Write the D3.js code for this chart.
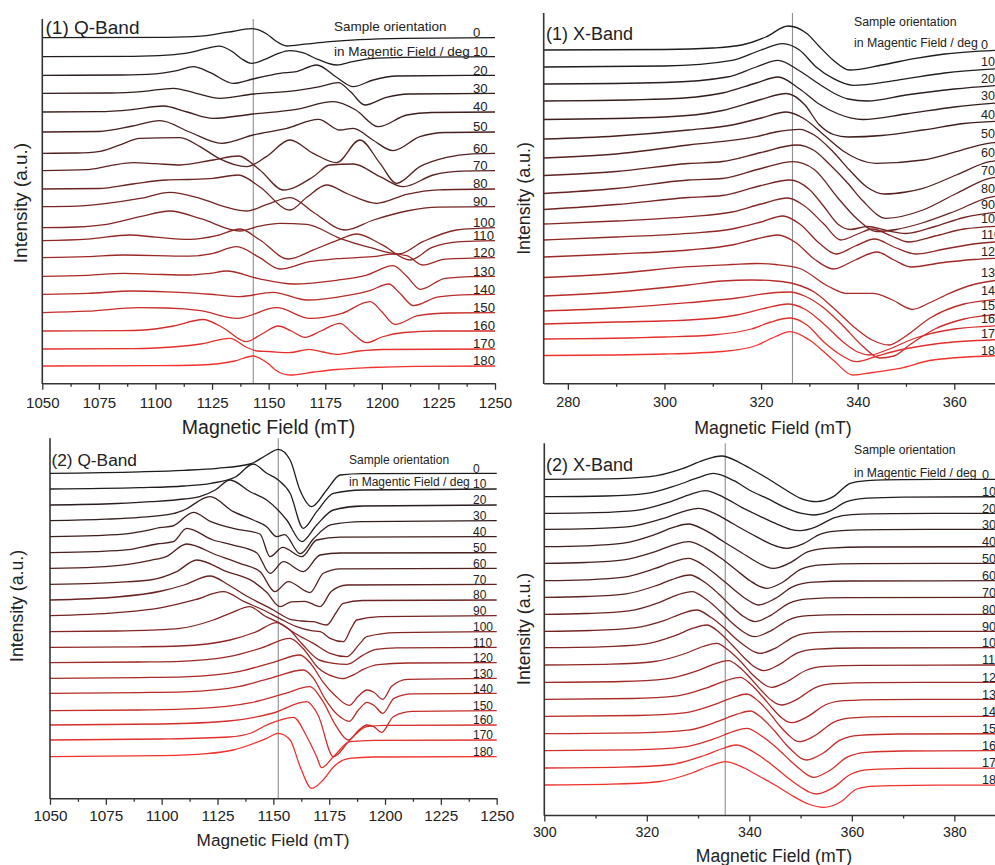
<!DOCTYPE html>
<html>
<head>
<meta charset="utf-8">
<script src="https://cdn.jsdelivr.net/npm/d3@7"></script>
<style>
body { margin: 0; background: #fff; }
svg { font-family: "Liberation Sans", Arial, sans-serif; }
</style>
</head>
<body>
<svg id="chart" width="995" height="865"></svg>
<script>
// sample orientation in the field, deg
var angles = [0, 10, 20, 30, 40, 50, 60, 70, 80, 90, 100, 110, 120, 130, 140, 150, 160, 170, 180];

// ---- (1) Q-Band ----
var q1Ticks = [1050, 1075, 1100, 1125, 1150, 1175, 1200, 1225, 1250];
var q1Marker = 1143.2;
var q1Offsets = [345.6, 326.6, 308, 290, 271.3, 251.3, 230, 212.6, 194.3, 176.6, 155.6, 142.6, 125.6, 107, 89, 70.6, 52.3, 34.3, 17.3];
var q1Spectra = [
  [[1050,0],[1105,0.4],[1120,1.5],[1132,5.5],[1142.5,9],[1149,4],[1153,-3],[1158,-8.3],[1166,-6.5],[1177,-4],[1190,-2],[1210,-0.7],[1250,0]],
  [[1050,0],[1090,0.3],[1105,1.5],[1115,4],[1122,8],[1128,10.5],[1134,5],[1138,-2],[1142.5,-6.7],[1148,-3],[1154,3],[1159.4,6],[1165,4],[1172,-3],[1180,-8.3],[1187,-5],[1195,-2],[1210,-0.7],[1250,0]],
  [[1050,0],[1085,0.3],[1100,1.5],[1110,5],[1116.7,8.7],[1124,3],[1134.4,-8],[1143,-3.7],[1155,2],[1162.3,3.7],[1171.2,10.3],[1180,-2],[1187.4,-11.3],[1196.2,-4.7],[1206.5,-0.7],[1250,0]],
  [[1050,0],[1080,0.3],[1095,2],[1107.9,5],[1118,0],[1128.5,-5],[1143.2,-0.7],[1162,2.7],[1172.7,6.7],[1180.8,10.7],[1186,2],[1192.5,-11.7],[1202,-4],[1212,-0.7],[1250,0]],
  [[1050,0],[1075,0.3],[1090,2.5],[1103.5,6],[1114,0],[1125.5,-6.3],[1143.2,-2],[1162.3,2.7],[1178.5,10.3],[1188.5,2],[1198.4,-14.7],[1211,-3],[1222,-0.5],[1250,0]],
  [[1050,0],[1075,0.5],[1090,6],[1102,11.3],[1115,0],[1129.2,-11.3],[1143.2,-3],[1158,3.7],[1172,12.7],[1181.5,2],[1187.4,3.7],[1196,-8],[1205,-18.7],[1216.8,-4.7],[1228,-0.5],[1250,0]],
  [[1050,0],[1065,0.3],[1075.5,2],[1085,9],[1093,15],[1110.8,15.7],[1119.7,6.7],[1128,-5],[1140.3,-13.3],[1149,-3.3],[1159.4,13.3],[1169.7,0],[1180,-9.3],[1190.3,13.3],[1199.2,-10],[1206.5,-30],[1216.8,-13.3],[1228.6,-4],[1240,-0.5],[1250,0]],
  [[1050,0],[1070,1],[1080,5],[1090.2,8],[1100,7],[1110.8,5.7],[1125.5,10.7],[1136.6,14.7],[1146.1,0.7],[1156.5,-19.3],[1169.7,-6],[1177,5.7],[1187.4,6.7],[1199.2,-6],[1209.5,-16],[1222.7,-4.3],[1235,-0.5],[1250,0]],
  [[1050,0],[1075,0.5],[1090,5],[1105,9],[1115,9.5],[1125.5,10.7],[1136.6,14],[1146,2.3],[1159.4,-21],[1167,-8],[1175.6,4],[1185,-5],[1197.7,-14.3],[1211,-5.3],[1225,-0.8],[1250,0]],
  [[1050,0],[1065,0.5],[1078.5,3.3],[1093.2,8.3],[1106.4,14.3],[1120,8],[1132,-1],[1140.3,-4.3],[1149,2],[1159.5,9],[1170,-6],[1183.8,-23.3],[1196.3,-13.3],[1211,-4.3],[1225,-0.5],[1250,0]],
  [[1050,0],[1065,0.7],[1078.5,3.3],[1093.2,11],[1106.4,16.7],[1120,9],[1137.4,-3.3],[1145,1],[1155,4.3],[1166.8,3.3],[1181.5,-10.7],[1195,-20],[1207.3,-26.3],[1218.4,-13.7],[1233,-2.3],[1245,-0.3],[1250,0]],
  [[1050,0],[1070,1.5],[1088.8,5.7],[1100,3.5],[1115.3,1.3],[1127,5],[1137.4,11.7],[1146,1],[1158.7,-18.3],[1170,-9],[1180,0],[1189,6.7],[1200,-4],[1212.5,-19.3],[1222,-7],[1235,-1],[1250,0]],
  [[1050,0],[1070,1],[1086,2.7],[1115,1.5],[1125,4],[1135.9,11],[1146,0],[1155,-11.3],[1168,-4],[1180,-1],[1196,1],[1205,3.5],[1211,2],[1218,-7.3],[1228,-1.5],[1250,0]],
  [[1050,0],[1070,1],[1086,3],[1100,2],[1115,1.3],[1124,3],[1131.5,5.3],[1145,-2],[1161,-7.7],[1180,-4],[1193,1],[1205,10.7],[1211,0],[1217,-13],[1228,-2],[1240,-0.3],[1250,0]],
  [[1050,0],[1070,1],[1090,3.3],[1105,2.5],[1115,1.5],[1127,-0.5],[1137,-2.3],[1152,2],[1167,-5.7],[1185,-1],[1195,4],[1203,10.3],[1208,1],[1214,-11.3],[1225,-2.5],[1240,-0.3],[1250,0]],
  [[1050,0],[1070,1.5],[1093,5],[1105,4.7],[1120,2],[1136,-5.7],[1153.6,5],[1168.3,-5.7],[1182,-1],[1194.8,11],[1200,1],[1205.8,-11.7],[1216,-3],[1230,-0.3],[1250,0]],
  [[1050,0],[1085,0.3],[1095,1],[1108,5],[1121,11.5],[1130,3],[1140,-10.7],[1147,-3],[1154.3,5],[1160,0],[1166,-6.3],[1173,0],[1181.5,7.7],[1187,-2],[1193.3,-11.7],[1200,-6],[1210,-1.5],[1225,0],[1250,0]],
  [[1050,0],[1090,0.3],[1100,1],[1120,5],[1132.9,10.7],[1140,2],[1145,-2],[1150,-2.5],[1159,-3.7],[1168,-0.3],[1174,-3],[1180,-5.3],[1190,-2],[1200,-0.5],[1250,0]],
  [[1050,0],[1100,0.3],[1120,1],[1135,5],[1143.2,10],[1150,2],[1153,-4],[1159.4,-9],[1170,-6],[1180,-3.5],[1195,-1.5],[1215,-0.3],[1250,0]]
];

// ---- (1) X-Band ----
var x1Ticks = [280, 300, 320, 340, 360];
var x1Marker = 326.5;
var x1Offsets = [333.3, 316.3, 299.3, 282.3, 263.8, 244.3, 225.3, 207.8, 189.8, 173.8, 159.3, 143.3, 126.3, 105.8, 87.3, 72.3, 59.3, 44.3, 27.8];
var x1Spectra = [
  [[275,0],[300,0.5],[310,2],[316,5],[321,13],[325.6,24],[329.4,16.7],[332.1,3.3],[334.9,-10],[338.3,-20],[345,-15],[352,-8.3],[358,-4],[370,0]],
  [[275,0],[300,1],[314,6.7],[320,17],[324.5,23.3],[328,16.7],[331.4,0],[335,-11.7],[339,-18.3],[348,-13.3],[358,-6],[370,-1.5]],
  [[275,0],[300,1.5],[313,7],[319,17],[323.5,23.7],[328,13],[332,0],[335,-9],[338,-15],[342,-17],[350,-11],[360,-5],[370,-1]],
  [[275,0],[300,2],[312,8],[319,18],[323.5,24],[328,12],[332,-3],[336,-13],[341,-18.5],[350,-13],[360,-6],[370,-1.5]],
  [[275,0],[300,2.5],[312,9],[320,20],[325.2,26],[329,15],[332,-5],[335,-15],[338,-17.5],[345,-16],[353.5,-10.5],[362,-4],[370,-1.5]],
  [[275,0],[290,3],[305,9],[314,14],[320,21],[325.2,27],[329,20],[333,4],[337,-12],[340,-20],[343.8,-24.3],[353.5,-21],[360.4,-12.7],[367,-4.3],[370,-3]],
  [[275,0],[290,4],[305,13],[319,21.3],[323,26],[328,28.7],[331,23],[334.9,6.3],[338.3,-12],[341.8,-28.7],[345.6,-36],[350,-34],[353.5,-30.3],[360.4,-17],[367.3,-3.7],[370,-2]],
  [[275,0],[290,4],[305,12],[312,14],[320,23],[327.3,30.5],[331,25],[334,12],[338,-8],[341,-25],[345.9,-42.8],[353.5,-34.5],[360.4,-18],[367.3,-2.8],[370,-1]],
  [[275,0],[290,5],[305,13.5],[312,15],[320,25],[326.6,31.8],[331,24],[336,-5],[340,-26],[343.8,-38],[348,-36],[353,-30],[360,-18],[367.3,-3.8],[370,-2]],
  [[275,0],[290,5],[305,12],[312,14],[320,24],[325.9,29.5],[330,20],[333,3],[336,-15],[338.5,-20],[342,-17],[346,-21],[350,-24],[356,-17],[362,-8],[370,-2]],
  [[275,0],[290,3],[305,7.3],[314,12],[320,20],[325.5,26],[329,18],[333,0],[336.5,-16],[340,-10],[343,-5],[347,-12],[350.5,-18],[356,-12],[362,-5],[370,-2]],
  [[275,0],[290,3],[305,6.7],[314,11],[320,18],[324.5,24],[328,16],[332,-3],[335.5,-14],[339.5,-6],[343.5,1],[347.5,-7],[352,-14],[358,-9],[364,-4],[370,-1.5]],
  [[275,0],[290,3],[305,7],[314,12],[319,18],[323.5,22],[327,15],[331,-2],[335,-12],[339.5,-3],[344,5],[347.5,-3],[351,-10],[357,-6],[364,-2.5],[370,-1]],
  [[275,0],[290,4],[305,10.8],[314,13],[319,14],[323,13],[328,9],[334,-9],[337.6,-15.8],[343.2,-15.8],[347,-22],[351.4,-31.8],[355,-25],[359,-15.8],[364,-7],[370,-2]],
  [[275,0],[290,4],[305,11],[312,15],[318,16],[323,15],[327,12],[331,4],[335,-12],[339,-30],[343,-44],[346.5,-49],[350,-40],[355,-22],[362,-8],[370,-3]],
  [[275,0],[290,3],[305,8.3],[315,13],[322,18],[326,19],[329,15],[333,3],[337,-15],[341,-35],[344.5,-47],[347.5,-45],[351,-33],[356,-18],[362,-8],[370,-3]],
  [[275,0],[290,2],[305,4],[315,9],[321,16],[325.5,20],[329,15],[333,0],[337,-18],[340,-28],[342.5,-31],[346,-26],[352,-14],[360,-5],[370,-1.5]],
  [[275,0],[300,2],[310,4],[318,10],[322,17],[326,21],[329.5,14],[333,-3],[336.5,-16],[339.7,-22.7],[344,-17],[348.7,-11],[356,-5],[370,-0.5]],
  [[275,0],[300,1.5],[312,4],[319,10],[323,19],[326,23.8],[330,15.5],[334.9,-4.5],[339,-19.5],[343,-17],[348.7,-12.8],[355.6,-4.5],[370,0]]
];

// ---- (2) Q-Band ----
var q2Ticks = [1050, 1075, 1100, 1125, 1150, 1175, 1200, 1225, 1250];
var q2Marker = 1152.2;
var q2Offsets = [325, 309.3, 293.3, 277.6, 261.6, 245.6, 230, 214, 198.3, 182.6, 166.6, 151, 135.6, 120, 105, 87.6, 73.3, 58.3, 41.6];
var q2Spectra = [
  [[1050,0],[1090,1.5],[1110,3],[1125,5],[1139.6,9.3],[1147,18.3],[1152.2,24],[1157.5,13.3],[1161.9,-16.7],[1167.2,-33.3],[1173.9,-16.7],[1179.9,-1.7],[1190,-0.3],[1250,0]],
  [[1050,0],[1090,1.3],[1110,3],[1122,5.7],[1133,12],[1141,25],[1147,15.7],[1152.2,9],[1157.5,-4.3],[1163.4,-39.3],[1169.4,-22.7],[1176.9,-4.3],[1190,-1],[1250,0]],
  [[1050,0],[1080,1.5],[1095,3.3],[1110,6],[1117,8.3],[1124,15],[1130.6,25],[1139.6,13.3],[1147,5],[1156,-15],[1162.7,-36.7],[1169.4,-20],[1176.9,-5],[1190,-1],[1250,0]],
  [[1050,0],[1075,1.5],[1090,3.3],[1105,7],[1110,10.7],[1121.6,24],[1132.1,9],[1141,0.7],[1147,-6],[1151.5,-16],[1155,-14],[1162,-33],[1168,-18],[1176,-4],[1190,-1],[1250,0]],
  [[1050,0],[1070,1],[1085,3],[1093,6],[1099,9],[1105,10.7],[1114.2,24.3],[1122,15],[1132,8.3],[1144,2.7],[1148.5,-20],[1154.2,-10.7],[1162.7,-20],[1169.4,-3.3],[1180,-0.5],[1250,0]],
  [[1050,0],[1070,1],[1085,3],[1097.8,8.7],[1105.2,11],[1111.2,24.3],[1123,12.7],[1132,7.7],[1142.5,0],[1148.5,-20.7],[1154.5,-9],[1163.4,-19],[1170.9,-2.3],[1180,-0.3],[1250,0]],
  [[1050,0],[1070,1.2],[1085,4],[1095,8],[1102,11.7],[1111.2,24.3],[1124.6,13.3],[1135,5],[1144,-3.3],[1150.7,-23.3],[1156.7,-13.3],[1166.4,-24.3],[1172.4,-5],[1180,-0.5],[1250,0]],
  [[1050,0],[1070,1],[1080,2],[1094.8,4.3],[1106.7,12.7],[1115.7,24.3],[1129.1,12.7],[1141,2.7],[1147,-8],[1153,-22.3],[1158,-17.5],[1164,-17],[1170.9,-22.3],[1176,-7],[1183,-0.7],[1250,0]],
  [[1050,0],[1080,3],[1100,9],[1110,15],[1121.6,24],[1130,15],[1138,4],[1150,-10],[1157.5,-19.3],[1163,-21],[1167.9,-21.7],[1173.9,-25],[1178,-13],[1181.3,-3.3],[1190,-0.5],[1250,0]],
  [[1050,0],[1080,3],[1100,8],[1115,16],[1127.6,24],[1137,14],[1145.5,5.7],[1153,-3],[1160.4,-11],[1167,-15],[1171,-16],[1175.4,-22.7],[1181.3,-26],[1185,-12],[1187.3,-4.3],[1197.8,-1],[1250,0]],
  [[1050,0],[1080,0.7],[1095,1.5],[1108.2,3.3],[1123.1,11.7],[1130.6,18.3],[1139.5,25],[1146,16],[1153,8.3],[1160,-2],[1167.9,-11.7],[1175.4,-21.7],[1182.8,-25],[1188.8,-11.7],[1191.8,-5],[1205.2,-1],[1250,0]],
  [[1050,0],[1090,0.5],[1108,1.3],[1130.6,7.3],[1142.5,15.7],[1151.5,24.7],[1157,18],[1163,3],[1170,-12],[1177,-16],[1183,-17],[1190,-8],[1196,-2],[1205,-0.5],[1250,0]],
  [[1050,0],[1090,0.7],[1108.2,1.3],[1130,6],[1145,15],[1157.4,24.3],[1163,15],[1170,-5],[1177,-14],[1181,-16],[1186,-12],[1190,-7],[1197,-2],[1210,-0.3],[1250,0]],
  [[1050,0],[1090,0.7],[1110,1.5],[1135,7],[1150,16],[1161.9,23.3],[1167,14],[1172,-3],[1178,-18],[1184,-27],[1188,-18],[1192,-11.7],[1195,-14],[1199,-21],[1203,-8],[1210,-1],[1250,0]],
  [[1050,0],[1090,0.7],[1110,1.5],[1135,7],[1150,16],[1163.4,23.3],[1168,15],[1173,-5],[1179,-22],[1184,-28],[1188,-17],[1192,-9],[1195,-12],[1199,-20],[1204,-5],[1212,-0.5],[1250,0]],
  [[1050,0],[1090,0.7],[1115,2],[1140,8],[1155,17],[1166.4,24],[1172,10],[1178,-15],[1183.6,-29.3],[1188,-20],[1191.8,-14.3],[1195,-16],[1198.5,-21.7],[1203.7,-6],[1212,-0.7],[1250,0]],
  [[1050,0],[1100,1],[1130,4],[1150,12],[1164.9,23.3],[1170,10],[1176.9,-31.7],[1184.3,-15],[1191.8,-1.7],[1200,-0.3],[1250,0]],
  [[1050,0],[1100,1],[1130,3],[1140,7],[1147,15],[1159,22.7],[1165,3.3],[1169.4,-16.7],[1171.6,-27.7],[1176.9,-16.7],[1184.3,-1.7],[1195,-0.3],[1250,0]],
  [[1050,0],[1100,1],[1120,3],[1132,6.7],[1147,18.3],[1152.2,23.3],[1157.5,16.7],[1162,-10],[1167.2,-31.7],[1172.4,-23],[1177,-10],[1184,-1.7],[1195,-0.3],[1250,0]]
];

// ---- (2) X-Band ----
var x2Ticks = [300, 320, 340, 360, 380];
var x2Marker = 335.3;
var x2Offsets = [335.7, 318.3, 301.7, 285.7, 268.3, 251.7, 234.3, 217.7, 200.7, 183.7, 167.3, 150, 132.7, 115.7, 98.7, 81.3, 64.3, 47, 30];
var x2Spectra = [
  [[300,0],[312,0.5],[320.6,2.7],[327.1,11],[331,19],[334.6,23.3],[338,17],[340.1,11],[343.5,1],[346.6,-9],[350,-19],[353.1,-22.3],[356.4,-17.3],[359.7,-4],[363,-1.3],[370,-0.3],[390,0]],
  [[300,0],[312,0.7],[320,3.3],[326,11.7],[330,19],[333,23.3],[337,16],[340,6.7],[344,-3],[346.6,-10],[350,-16.5],[352.5,-18.3],[355.5,-15],[359,-5],[363,-1.5],[370,-0.5],[390,0]],
  [[300,0],[310,0.7],[318,3],[324.5,11.5],[328.5,19],[331.4,22.7],[335,16],[338.5,6],[342.5,-4],[345.5,-11],[348,-16],[349.9,-17.3],[353,-13.5],[356.5,-4.5],[360,-1.3],[368,-0.3],[390,0]],
  [[300,0],[309,0.7],[317,3],[323.3,11],[327.3,18],[330.1,21],[333.6,15],[337,5],[340.5,-5],[343.5,-13],[345.7,-17.5],[347.3,-19],[350.5,-14.5],[354,-4.5],[358,-1.3],[366,-0.3],[390,0]],
  [[300,0],[308,0.8],[315.5,3.5],[321.5,12],[325.3,19.5],[328.1,22.7],[331.5,16],[335,5],[338.5,-6],[341.5,-15.5],[343.3,-20],[344.7,-21.7],[347.8,-16.5],[351.5,-5],[355.5,-1.5],[363,-0.3],[390,0]],
  [[300,0],[308,0.8],[315.5,3.5],[321.5,11.5],[325.3,18.5],[328.1,21.7],[331.5,15],[334.5,5],[337.5,-7],[340.3,-18],[342,-23],[343.4,-25],[346.5,-19],[350,-6],[354,-1.5],[362,-0.3],[390,0]],
  [[300,0],[308,0.8],[315.5,3.5],[321.5,12],[325.3,19],[328.1,22.3],[331.2,15],[334,4],[336.8,-8],[339.3,-18],[340.7,-22.5],[341.8,-24.3],[345,-18],[348.5,-6],[352.5,-1.5],[360,-0.3],[390,0]],
  [[300,0],[308,0.8],[316,3.5],[322,12],[325.6,19],[328.4,22.3],[331.3,15],[334,3.5],[336.5,-9],[338.8,-19],[340,-22.5],[341.1,-24.3],[344.2,-18],[347.7,-6],[351.5,-1.5],[359,-0.3],[390,0]],
  [[300,0],[308,0.8],[316.5,3.5],[322.5,12],[326,19.5],[328.8,22.7],[331.6,15],[334.2,3.5],[336.6,-8.5],[338.8,-17.5],[340,-21],[341.1,-22.3],[344.2,-16.5],[347.7,-5.5],[351.5,-1.4],[359,-0.3],[390,0]],
  [[300,0],[309,0.8],[317.5,3.5],[323.5,11],[327,18],[329.7,21.3],[332.5,14],[335.2,3],[337.6,-8.5],[339.8,-17],[341,-20.5],[342.1,-22],[345.2,-16.5],[348.7,-5.5],[352.5,-1.4],[360,-0.3],[390,0]],
  [[300,0],[311,0.8],[319.5,3.5],[325.5,12],[329,19.5],[331.7,22.7],[334.2,15],[336.6,3],[338.8,-9],[340.7,-18],[341.8,-21.5],[342.8,-23],[345.8,-17],[349.3,-5.5],[353,-1.4],[361,-0.3],[390,0]],
  [[300,0],[313,0.8],[321.5,3.5],[327.5,11.5],[331,18.5],[333.6,21.7],[336,14.5],[338.4,3],[340.5,-9],[342.4,-17.5],[343.4,-21],[344.4,-22.3],[347.4,-16.5],[351,-5.5],[354.7,-1.4],[362,-0.3],[390,0]],
  [[300,0],[315,0.8],[323.8,3.5],[329.8,11.5],[333.3,18.5],[335.9,21.7],[338.2,14.5],[340.4,3],[342.5,-9],[344.3,-18],[345.3,-21.3],[346.3,-22.7],[349.3,-17],[352.8,-5.5],[356.5,-1.4],[364,-0.3],[390,0]],
  [[300,0],[317,0.8],[326,3.5],[332,12],[335.6,19],[338.2,22],[340.4,14.5],[342.5,3],[344.5,-9],[346.3,-18.5],[347.3,-22],[348.3,-23.3],[351.3,-17.5],[354.8,-5.7],[358.5,-1.4],[366,-0.3],[390,0]],
  [[300,0],[318,0.8],[327.3,3.5],[333.3,12],[336.9,19],[339.5,22.3],[341.8,15],[344,3],[346,-10],[347.9,-20],[348.9,-24],[349.9,-25.3],[352.9,-19],[356.4,-6],[360,-1.5],[367,-0.3],[390,0]],
  [[300,0],[318.5,0.8],[328,3.5],[334,12.5],[337.6,19.5],[340.2,22.7],[342.6,15],[344.9,3],[347.1,-10.5],[349.1,-20.5],[350.2,-25],[351.2,-26.3],[354.2,-20],[357.7,-6.5],[361.4,-1.6],[369,-0.3],[390,0]],
  [[300,0],[317.5,0.8],[327,3.5],[333.2,12],[336.8,19],[339.5,22.3],[342.3,15],[345.2,3.5],[348,-10],[350.5,-21],[351.6,-25],[352.5,-26.7],[355.6,-20],[359.1,-6.5],[362.8,-1.6],[370,-0.3],[390,0]],
  [[300,0],[315,0.8],[324.8,3.5],[331.2,12.5],[334.8,19.5],[337.5,23],[341,15.5],[344.2,4],[347.3,-9],[350.3,-20],[351.9,-24.5],[353.1,-26],[356.2,-20],[359.7,-6.5],[363.4,-1.6],[371,-0.3],[390,0]],
  [[300,0],[313,0.8],[322.5,3.5],[328.8,12],[332.5,19.5],[335.3,23.3],[339,17],[341.5,10],[345,0],[348,-9.5],[351.5,-19],[354.5,-22.3],[357.8,-17],[361,-4],[364.5,-1.2],[372,-0.3],[390,0]]
];

var svg = d3.select("#chart");

function lineColor(i) {
  return d3.interpolateRgb("#1c1c1c", "#f2302c")(Math.pow(i / 18, 1.25));
}

var panels = [
  { title: "(1) Q-Band", titleX: 45.5, titleY: 33.5, titleFont: 19, domain: [1050, 1250], left: 42.3, right: 495, top: 19, bottom: 383.3,
    ticks: q1Ticks, minorStep: 12.5, marker: q1Marker, offsets: q1Offsets, spectra: q1Spectra,
    tickFont: 15, tickPad: 7.5, xTitleX: 268.5, xTitleY: 433.5, xTitleFont: 19.5,
    yTitleX: 26.7, yTitleY: 203, yTitleFont: 19,
    legX: 334, legY1: 30.5, legY2: 55.5, legFont: 13.5, labX: 473, labFont: 13.2 },
  { title: "(1) X-Band", titleX: 546, titleY: 40, titleFont: 18, domain: [275, 370], left: 543.7, right: 1002.6, top: 13, bottom: 383.3,
    ticks: x1Ticks, minorStep: 10, marker: x1Marker, offsets: x1Offsets, spectra: x1Spectra,
    tickFont: 14.4, tickPad: 6.7, xTitleX: 773, xTitleY: 434, xTitleFont: 17.7,
    yTitleX: 530.3, yTitleY: 198.5, yTitleFont: 17.8,
    legX: 854, legY1: 26.3, legY2: 47.3, legFont: 12.3, labX: 981, labFont: 12.6 },
  { title: "(2) Q-Band", titleX: 51.5, titleY: 465.5, titleFont: 17.3, domain: [1050, 1250], left: 50, right: 496.7, top: 438.3, bottom: 798.3,
    ticks: q2Ticks, minorStep: 12.5, marker: q2Marker, offsets: q2Offsets, spectra: q2Spectra,
    tickFont: 15.3, tickPad: 5.3, xTitleX: 273, xTitleY: 845.5, xTitleFont: 17.2,
    yTitleX: 23.3, yTitleY: 606, yTitleFont: 17.7,
    legX: 349, legY1: 464.2, legY2: 485.9, legFont: 12, labX: 473, labFont: 12 },
  { title: "(2) X-Band", titleX: 546, titleY: 471, titleFont: 18, domain: [300, 390], left: 544.3, right: 1005.6, top: 443.3, bottom: 815,
    ticks: x2Ticks, minorStep: 10, marker: x2Marker, offsets: x2Offsets, spectra: x2Spectra,
    tickFont: 14.2, tickPad: 5, xTitleX: 774, xTitleY: 861.5, xTitleFont: 17.6,
    yTitleX: 530.3, yTitleY: 629, yTitleFont: 17.7,
    legX: 854, legY1: 454.3, legY2: 476.6, legFont: 12.2, labX: 982, labFont: 12.6 }
];

function drawPanel(p) {
  var g = svg.append("g");
  var x = d3.scaleLinear().domain(p.domain).range([p.left, p.right]);
  var y = d3.scaleLinear().domain([0, p.bottom - p.top]).range([p.bottom, p.top]);

  var line = d3.line()
    .x(function(d) { return x(d[0]); })
    .y(function(d) { return y(d[1]); })
    .curve(d3.curveMonotoneX);

  // reference field
  g.append("line")
    .attr("x1", x(p.marker)).attr("x2", x(p.marker))
    .attr("y1", p.top).attr("y2", p.bottom)
    .attr("stroke", "#8e8e8e").attr("stroke-width", 1.1);

  p.spectra.forEach(function(s, i) {
    var off = p.offsets[i];
    g.append("path")
      .datum(s.map(function(d) { return [d[0], off + d[1]]; }))
      .attr("d", line)
      .attr("fill", "none")
      .attr("stroke", lineColor(i))
      .attr("stroke-width", 1.3)
      .attr("stroke-linejoin", "round");
  });

  // minor ticks
  var minor = [];
  for (var v = p.ticks[0] + p.minorStep; v < p.domain[1]; v += 2 * p.minorStep) minor.push(v);
  g.append("g")
    .attr("transform", "translate(0," + p.bottom + ")")
    .call(d3.axisBottom(x).tickValues(minor).tickSize(3.5).tickFormat(""))
    .call(function(a) { a.select(".domain").remove(); })
    .selectAll("line").attr("stroke", "#333").attr("stroke-width", 1.3);

  var ax = g.append("g")
    .attr("transform", "translate(0," + p.bottom + ")")
    .call(d3.axisBottom(x).tickValues(p.ticks).tickSize(6.5).tickSizeOuter(0)
      .tickPadding(p.tickPad).tickFormat(d3.format("d")));
  ax.attr("font-family", null).attr("font-size", p.tickFont);
  ax.select(".domain").attr("stroke", "#333").attr("stroke-width", 1.6);
  ax.selectAll(".tick line").attr("stroke", "#333").attr("stroke-width", 1.3);
  ax.selectAll(".tick text").attr("fill", "#222");

  // left axis
  g.append("line")
    .attr("x1", p.left).attr("x2", p.left)
    .attr("y1", p.top).attr("y2", p.bottom + 0.8)
    .attr("stroke", "#333").attr("stroke-width", 1.6);

  g.append("text")
    .attr("x", p.xTitleX).attr("y", p.xTitleY)
    .attr("text-anchor", "middle").attr("font-size", p.xTitleFont).attr("fill", "#222")
    .text("Magnetic Field (mT)");

  g.append("text")
    .attr("transform", "translate(" + p.yTitleX + "," + p.yTitleY + ") rotate(-90)")
    .attr("text-anchor", "middle").attr("font-size", p.yTitleFont).attr("fill", "#222")
    .text("Intensity (a.u.)");

  g.append("text")
    .attr("x", p.titleX).attr("y", p.titleY)
    .attr("font-size", p.titleFont).attr("fill", "#222")
    .text(p.title);

  g.append("text").attr("x", p.legX).attr("y", p.legY1)
    .attr("font-size", p.legFont).attr("fill", "#222").text("Sample orientation");
  g.append("text").attr("x", p.legX).attr("y", p.legY2)
    .attr("font-size", p.legFont).attr("fill", "#222").text("in Magentic Field / deg");

  angles.forEach(function(a, i) {
    g.append("text")
      .attr("x", p.labX).attr("y", y(p.offsets[i]) - 0.8)
      .attr("font-size", p.labFont).attr("fill", "#222")
      .text(a);
  });
}

panels.forEach(drawPanel);
</script>
</body>
</html>
